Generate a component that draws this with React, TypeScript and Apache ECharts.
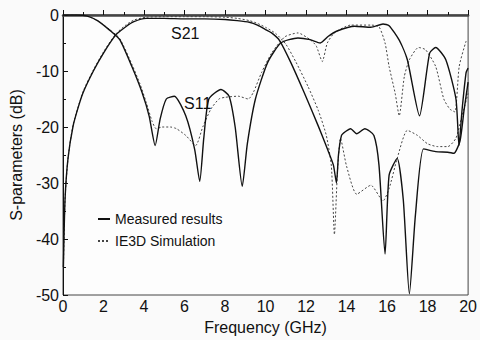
import { useEffect, useRef } from "react";
import * as echarts from "echarts";

// S21 measured
const s21MeasF = [0.02, 0.1, 0.25, 0.5, 0.75, 1.0, 1.5, 2.0, 2.6, 3.1, 3.5, 4.1, 5, 6, 7, 8, 8.6, 9.2, 9.6, 10.0, 10.3, 10.7, 11.25, 11.9, 12.6, 13.05, 13.35, 13.5, 13.6, 13.75, 13.95, 14.2, 14.5, 14.9, 15.35, 15.6, 15.9, 16.1, 16.5, 16.8, 17.1, 17.4, 17.8, 18.4, 19.0, 19.3, 19.6, 19.8, 20];
const s21MeasDb = [-45, -33, -25.5, -19.8, -16.5, -13.8, -10, -6.8, -3.6, -2.1, -1.2, -0.6, -0.6, -0.7, -0.7, -0.8, -1.0, -1.3, -1.8, -2.6, -3.2, -4.6, -8.5, -13.8, -19.8, -23.9, -26.8, -30, -25, -21.5, -20.8, -20.3, -21.2, -20.3, -21.5, -26.8, -42.7, -28.6, -25.6, -33, -49.8, -35.7, -23.9, -24.4, -24.5, -24.7, -22.5, -17, -12];

// S21 simulated
const s21SimF = [0.02, 0.1, 0.25, 0.5, 1.0, 1.5, 2.0, 2.6, 3.1, 3.5, 4.1, 5, 6, 7, 8, 8.6, 9.2, 9.6, 10.0, 10.5, 11.0, 11.5, 12.1, 12.6, 13.0, 13.25, 13.4, 13.55, 13.7, 14.0, 14.5, 15.2, 15.8, 16.1, 16.5, 17.0, 17.5, 18.0, 18.5, 19.0, 19.4, 19.7, 20];
const s21SimDb = [-45, -33, -25.5, -19.6, -13.6, -9.8, -6.6, -3.4, -1.8, -0.9, -0.4, -0.3, -0.3, -0.3, -0.4, -0.6, -1.0, -1.5, -2.2, -3.3, -5.2, -8.4, -12.8, -17, -21.5, -27, -39.2, -28, -22, -27, -32, -30.4, -33.2, -31, -25.6, -20.6, -21.5, -23, -23.5, -23.5, -22, -18, -14];

// S11 measured
const s11MeasF = [0, 0.7, 1.2, 1.7, 2.3, 2.8, 3.4, 3.9, 4.25, 4.55, 4.8, 5.1, 5.5, 6.06, 6.5, 6.75, 6.95, 7.2, 7.8, 8.2, 8.5, 8.85, 9.1, 9.5, 10.1, 10.75, 11.6, 12.2, 12.7, 13.1, 13.5, 14.4, 15.2, 15.8, 16.1, 16.6, 17.0, 17.6, 18.1, 18.4, 18.9, 19.4, 19.55, 19.7, 19.9, 20];
const s11MeasDb = [0, 0, -0.2, -1.0, -2.7, -4.4, -9.2, -13.8, -18, -23.3, -18.5, -15, -14.5, -18, -24, -29.7, -22, -15, -13.3, -14.5, -20, -30.6, -23, -15, -8.5, -5, -4.1, -4.4, -5, -3.8, -2.9, -2.0, -2.2, -1.6, -1.9, -4.5, -8, -18, -6.8, -5.8, -8, -15, -23.3, -17, -10.3, -9.5];

// S11 simulated
const s11SimF = [0, 0.7, 1.2, 1.7, 2.3, 2.8, 3.4, 3.8, 4.1, 4.4, 4.6, 4.9, 5.3, 5.6, 6.06, 6.55, 6.9, 7.3, 7.7, 8.0, 8.65, 9.15, 9.4, 9.8, 10.3, 10.95, 11.6, 12.2, 12.5, 12.8, 13.05, 13.4, 14.2, 15.2, 15.6, 15.9, 16.1, 16.4, 16.6, 16.85, 17.1, 17.55, 17.9, 18.4, 18.8, 19.1, 19.35, 19.56, 19.9, 20];
const s11SimDb = [0, 0, -0.2, -1.0, -2.6, -4.2, -8.8, -12.3, -15.5, -19, -20.3, -20, -20, -20.3, -21.5, -23.3, -20, -16.8, -15, -14.7, -14.5, -15, -13.8, -10.3, -6.8, -3.9, -3.2, -4.4, -5.5, -8.3, -5, -3.2, -1.8, -1.8, -2.1, -5, -9.2, -14, -18, -11, -8, -5.8, -6.2, -9.2, -15, -16.8, -17.3, -9.2, -4.7, -4.5];

const legendNames = ["Measured results", "IE3D Simulation"];
const curveLabels = ["S21", "S11"];

const zip = (f: number[], v: number[]) => f.map((x, i) => [x, v[i]]);

export default function App() {
  const ref = useRef<HTMLDivElement>(null);
  useEffect(() => {
    if (!ref.current) return;
    const chart = echarts.init(ref.current, null, { renderer: "svg" });
    const font = "Liberation Sans, Arial, Helvetica, sans-serif";
    const solid = { color: "#111", width: 1.4, type: "solid" as const };
    const dotted = { color: "#444", width: 1, type: [2, 2] as any };
    const mk = (name: string, data: number[][], ls: any) => ({
      type: "line",
      name,
      data,
      showSymbol: false,
      symbol: "none",
      smooth: 0.2,
      itemStyle: { color: ls.color },
      lineStyle: ls,
      silent: true,
    });
    chart.setOption({
      animation: false,
      backgroundColor: "#fafafa",
      textStyle: { fontFamily: font },
      grid: {
        left: 63,
        top: 15,
        right: 8,
        bottom: 42,
        show: true,
        backgroundColor: "#fdfdfd",
        borderColor: "#444",
        borderWidth: 1,
      },
      legend: {
        data: legendNames,
        orient: "vertical",
        left: 92,
        top: 207,
        itemWidth: 12,
        itemHeight: 14,
        itemGap: 8,
        itemStyle: { opacity: 0 },
        textStyle: { fontFamily: font, fontSize: 14, color: "#111" },
        selectedMode: false,
      },
      xAxis: [
        {
          type: "value",
          min: 0,
          max: 20,
          interval: 2,
          name: "Frequency (GHz)",
          nameLocation: "middle",
          nameGap: 24,
          nameTextStyle: { fontSize: 16, color: "#111", fontFamily: font },
          axisLine: { lineStyle: { color: "#111", width: 1 } },
          axisTick: { inside: true, length: 5, lineStyle: { color: "#111" } },
          minorTick: { show: true, splitNumber: 2, length: 3, lineStyle: { color: "#111" } },
          splitLine: { show: false },
          axisLabel: { fontSize: 16, color: "#111", margin: 3, fontFamily: font },
        },
        {
          type: "value",
          position: "top",
          min: 0,
          max: 20,
          axisLine: { show: true, lineStyle: { color: "#444", width: 2.5 } },
          axisTick: { show: false },
          axisLabel: { show: false },
          splitLine: { show: false },
        },
      ],
      yAxis: {
        type: "value",
        min: -50,
        max: 0,
        interval: 10,
        name: "S-parameters (dB)",
        nameLocation: "middle",
        nameGap: 39,
        nameTextStyle: { fontSize: 16, color: "#111", fontFamily: font },
        axisLine: { show: true, lineStyle: { color: "#111", width: 1 } },
        axisTick: { show: true, inside: true, length: 5, lineStyle: { color: "#111" } },
        minorTick: { show: true, splitNumber: 2, length: 3, lineStyle: { color: "#111" } },
        splitLine: { show: false },
        axisLabel: { fontSize: 16, color: "#111", margin: 4, fontFamily: font },
      },
      graphic: [
        {
          type: "text",
          left: 171,
          top: 25,
          style: { text: curveLabels[0], fontSize: 16, fill: "#111", fontFamily: font },
        },
        {
          type: "text",
          left: 184,
          top: 95,
          style: { text: curveLabels[1], fontSize: 16, fill: "#111", fontFamily: font },
        },
      ],
      series: [
        mk(legendNames[1], zip(s21SimF, s21SimDb), dotted),
        mk(legendNames[1], zip(s11SimF, s11SimDb), dotted),
        mk(legendNames[0], zip(s21MeasF, s21MeasDb), solid),
        mk(legendNames[0], zip(s11MeasF, s11MeasDb), solid),
      ],
    });
    return () => chart.dispose();
  }, []);
  return (
    <div
      ref={ref}
      style={{ position: "fixed", left: 0, top: 0, width: 480, height: 340 }}
    />
  );
}
